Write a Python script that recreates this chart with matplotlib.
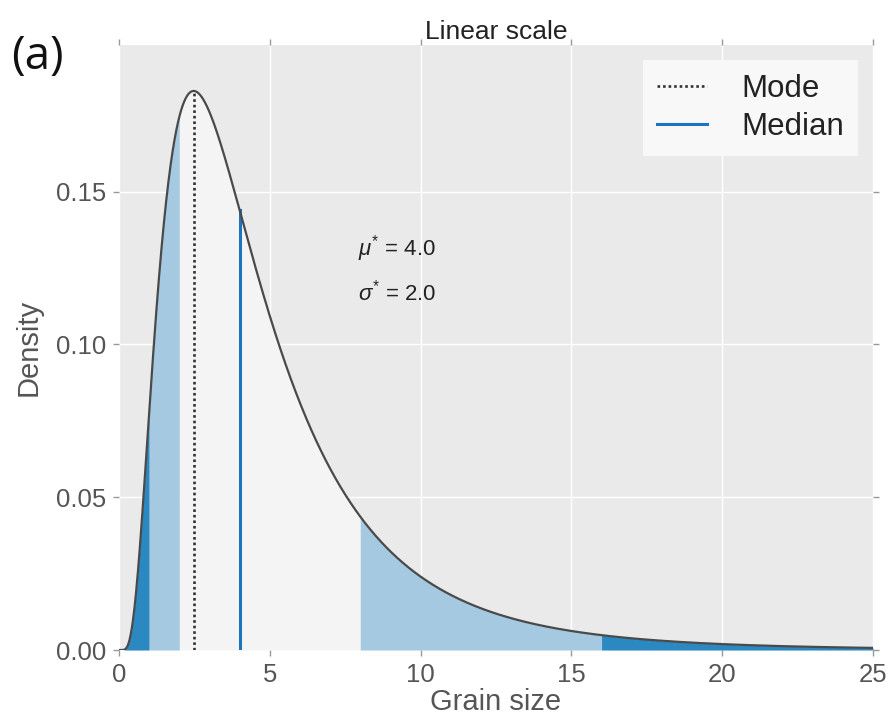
import numpy as np
import matplotlib
matplotlib.use("Agg")
import matplotlib.pyplot as plt

plt.rcParams["font.family"] = ["Liberation Sans", "DejaVu Sans"]
plt.rcParams["mathtext.fontset"] = "custom"
plt.rcParams["mathtext.rm"] = "Liberation Sans"
plt.rcParams["mathtext.it"] = "Liberation Sans:italic"

# Log-normal grain-size distribution parameters
median = 4.0          # geometric mean mu*
gsd = 2.0             # geometric standard deviation sigma*
x_max = 25.0
x_ticks = [0, 5, 10, 15, 20, 25]
y_ticks = [0.00, 0.05, 0.10, 0.15]
# Shaded bands bounded by median / sigma*^k and median * sigma*^k
band_edges = [0.0, median / gsd**2, median / gsd, median * gsd, median * gsd**2, x_max]
band_colors = ["#2b88c0", "#a5c9e1", "#f4f4f4", "#a5c9e1", "#2b88c0"]

mu = np.log(median)
s = np.log(gsd)
mode = np.exp(mu - s**2)


def pdf(x):
    x = np.asarray(x, dtype=float)
    out = np.zeros_like(x)
    m = x > 0
    out[m] = np.exp(-(np.log(x[m]) - mu) ** 2 / (2 * s**2)) / (x[m] * s * np.sqrt(2 * np.pi))
    return out


x = np.linspace(0, x_max, 2000)
y = pdf(x)

fig = plt.figure(figsize=(8.93, 7.28), dpi=100)
ax = fig.add_axes([0.1333, 0.1071, 0.8443, 0.8311])
ax.set_facecolor("#eaeaea")
for sp in ax.spines.values():
    sp.set_visible(False)
ax.grid(True, color="white", linewidth=1.0)
ax.set_axisbelow(True)

for (lo, hi), c in zip(zip(band_edges[:-1], band_edges[1:]), band_colors):
    xs = np.linspace(lo, hi, 400)
    ax.fill_between(xs, 0, pdf(xs), color=c, linewidth=0, zorder=2)

ax.plot(x, y, color="#4a4a4a", lw=1.6, zorder=4)
ax.plot([mode, mode], [0, pdf([mode])[0]], color="#333333", lw=1.9,
        linestyle=(0, (1, 1.1)), zorder=3, label="Mode")
ax.plot([median, median], [0, pdf([median])[0]], color="#1f74c0", lw=2.2,
        zorder=3, label="Median")

ax.set_xlim(0, x_max)
ax.set_ylim(0, 0.198)
ax.set_xticks(x_ticks)
ax.set_yticks(y_ticks)
ax.set_yticklabels([f"{v:.2f}" for v in y_ticks])
ax.tick_params(axis="both", direction="out", length=4, width=1, color="#999999",
               labelcolor="#555555", labelsize=18.5, top=True, right=True, pad=5)

ax.set_xlabel("Grain size", fontsize=21, color="#555555", labelpad=1)
ax.set_ylabel("Density", fontsize=21, color="#555555", labelpad=10)
ax.set_title("Linear scale", fontsize=19, color="#222222", pad=4)

ax.text(7.93, 0.1314, r"$\mu^{*}$ = 4.0", fontsize=16, color="#222222", va="center")
ax.text(7.93, 0.1170, r"$\sigma^{*}$ = 2.0", fontsize=16, color="#222222", va="center")

leg = ax.legend(loc="upper right", fontsize=22.5, frameon=True, handlelength=1.6,
                handletextpad=1.1, borderpad=0.45, labelspacing=0.25,
                borderaxespad=0, bbox_to_anchor=(0.98, 0.975))
leg.get_frame().set_facecolor("#f8f8f8")
leg.get_frame().set_edgecolor("none")
leg.get_frame().set_boxstyle("square", pad=0)
leg.get_frame().set_alpha(1.0)
for t in leg.get_texts():
    t.set_color("#222222")

fig.text(0.012, 0.905, "(a)", fontsize=33, color="#111111", family="Open Sans")

fig.savefig("out.png", dpi=100)
